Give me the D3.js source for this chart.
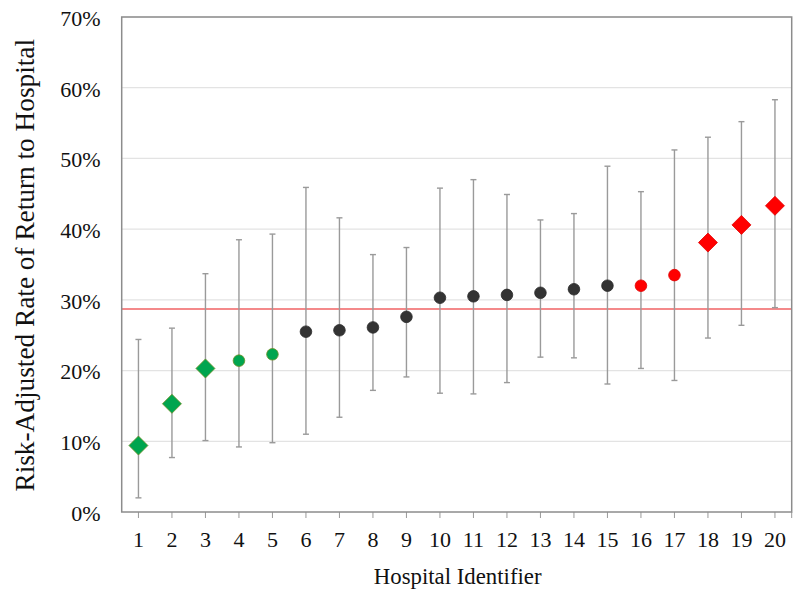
<!DOCTYPE html>
<html><head><meta charset="utf-8">
<script src="https://cdn.jsdelivr.net/npm/d3@7"></script>
<style>body{margin:0;background:#fff}svg{display:block}text{font-family:"Liberation Serif","Times New Roman",serif;fill:#111}</style>
</head><body><svg id="c" width="800" height="593"></svg>
<script>
const hospitals = ["1","2","3","4","5","6","7","8","9","10","11","12","13","14","15","16","17","18","19","20"];
const rates = [9.4,15.3,20.3,21.4,22.3,25.5,25.7,26.1,27.6,30.3,30.5,30.7,31.0,31.5,32.0,32.0,33.5,38.1,40.6,43.3];
const upper = [24.4,26.0,33.7,38.5,39.3,45.9,41.6,36.4,37.4,45.8,47.0,44.9,41.3,42.2,48.9,45.3,51.2,53.0,55.2,58.3];
const lower = [2.0,7.7,10.1,9.2,9.8,11.0,13.4,17.2,19.1,16.8,16.7,18.3,21.9,21.8,18.1,20.3,18.6,24.6,26.4,28.9];
const groups = ["greenD","greenD","greenD","greenC","greenC","dark","dark","dark","dark","dark","dark","dark","dark","dark","dark","redC","redC","redD","redD","redD"];
const yTicks = [0,10,20,30,40,50,60,70];
const overall = 28.7;

const svg = d3.select("#c");
const L = 121.7, R = 791.7, T = 17, B = 512;
const x = d3.scaleBand().domain(hospitals).range([L, R]);
const y = d3.scaleLinear().domain([0, 70]).range([B, T]);

// gridlines
svg.append("g").selectAll("line").data(yTicks.slice(1)).join("line")
  .attr("x1", L).attr("x2", R).attr("y1", d => y(d)).attr("y2", d => y(d))
  .attr("stroke", "#e3e3e3").attr("stroke-width", 1.2);

// y axis labels
const yAxis = d3.axisLeft(y).tickValues(yTicks).tickFormat(d => d + "%").tickSize(0).tickPadding(21);
const ya = svg.append("g").attr("transform", `translate(${L},0)`).call(yAxis)
  .attr("font-size", 22).attr("font-family", "Liberation Serif");
ya.select(".domain").remove();
ya.selectAll("text").attr("font-size", 22).attr("fill", "#111").attr("dy", "0.38em");

// x axis
const xAxis = d3.axisBottom(x).tickSize(6).tickPadding(8);
const xa = svg.append("g").attr("transform", `translate(0,${B})`).call(xAxis)
  .attr("font-size", 22).attr("font-family", "Liberation Serif");
xa.select(".domain").remove();
xa.selectAll("line").attr("stroke", "#999");
xa.selectAll("text").attr("font-size", 22).attr("fill", "#111").attr("y", 35).attr("dy", 0);
svg.append("line").attr("x1", R).attr("x2", R).attr("y1", B).attr("y2", B + 6).attr("stroke", "#999");

// overall reference line
svg.append("line").attr("x1", L).attr("x2", R).attr("y1", y(overall)).attr("y2", y(overall))
  .attr("stroke", "#f4898a").attr("stroke-width", 2);

// error bars
const eb = svg.append("g").attr("stroke", "#9a9a9a").attr("stroke-width", 1.4);
hospitals.forEach((h, i) => {
  const cx = x(h) + x.bandwidth() / 2;
  eb.append("line").attr("x1", cx).attr("x2", cx).attr("y1", y(upper[i])).attr("y2", y(lower[i]));
  eb.append("line").attr("x1", cx - 3).attr("x2", cx + 3).attr("y1", y(upper[i])).attr("y2", y(upper[i]));
  eb.append("line").attr("x1", cx - 3).attr("x2", cx + 3).attr("y1", y(lower[i])).attr("y2", y(lower[i]));
});

// markers
const fillOf = g => g.startsWith("green") ? "#00a54f" : g.startsWith("red") ? "#ff0000" : "#333333";
const strokeOf = g => g.startsWith("green") ? "#6b8e23" : g.startsWith("red") ? "#e00000" : "#2a2a2a";
const mk = svg.append("g");
hospitals.forEach((h, i) => {
  const cx = x(h) + x.bandwidth() / 2, cy = y(rates[i]), g = groups[i];
  if (g.endsWith("D")) {
    const s = 9.5;
    mk.append("path").attr("d", `M${cx},${cy - s}L${cx + s},${cy}L${cx},${cy + s}L${cx - s},${cy}Z`)
      .attr("fill", fillOf(g)).attr("stroke", strokeOf(g)).attr("stroke-width", 0.8);
  } else {
    mk.append("circle").attr("cx", cx).attr("cy", cy).attr("r", 5.8)
      .attr("fill", fillOf(g)).attr("stroke", strokeOf(g)).attr("stroke-width", 0.8);
  }
});

// frame
svg.append("rect").attr("x", L).attr("y", T).attr("width", R - L).attr("height", B - T)
  .attr("fill", "none").attr("stroke", "#8c8c8c").attr("stroke-width", 1.5);

// titles
svg.append("text").attr("x", (L + R) / 2 + 1).attr("y", 583.5).attr("text-anchor", "middle")
  .attr("font-size", 22.8).text("Hospital Identifier");
svg.append("text").attr("transform", `translate(33.5,${(39.5 + 491) / 2}) rotate(-90)`).attr("text-anchor", "middle")
  .attr("font-size", 27.3).text("Risk-Adjusted Rate of Return to Hospital");
</script></body></html>
